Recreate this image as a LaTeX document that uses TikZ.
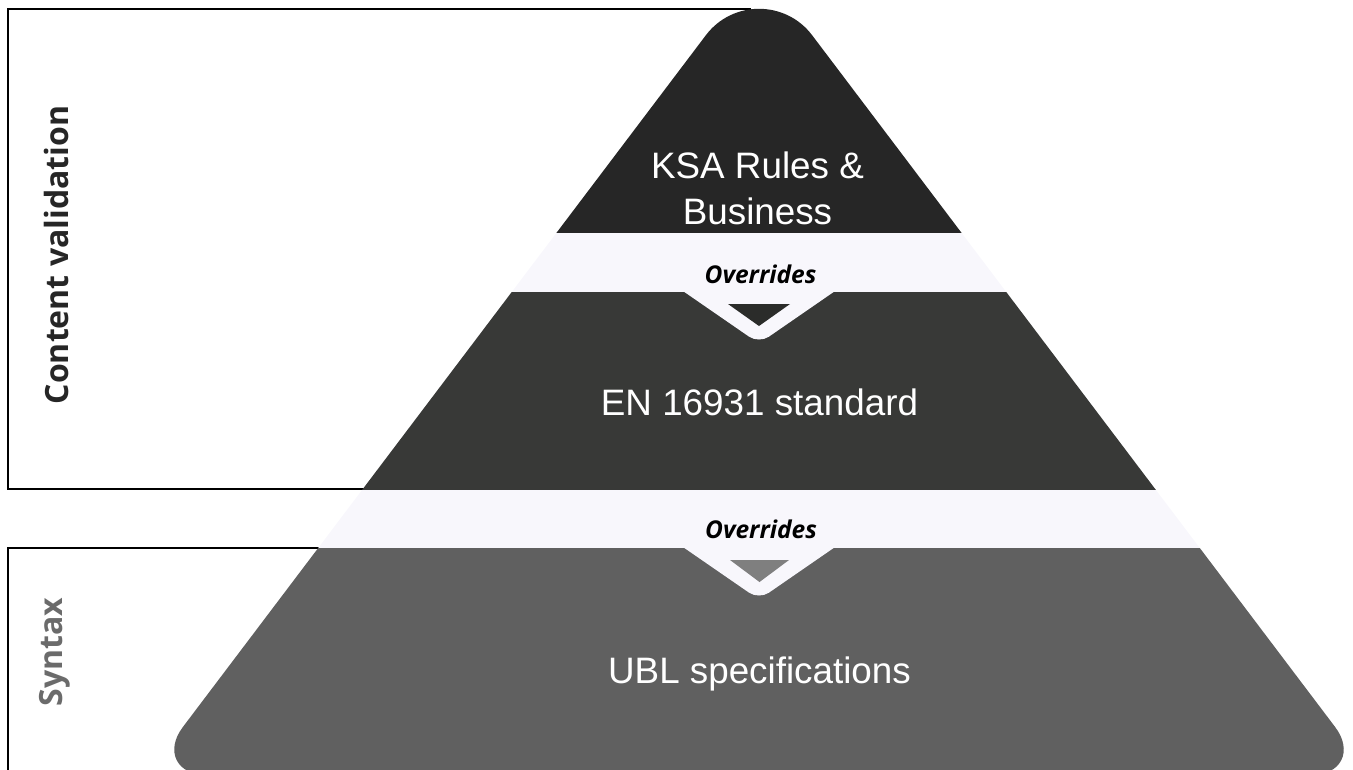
\documentclass[tikz,border=0pt]{standalone}
\usepackage{fontspec}
\setmainfont{Liberation Sans}
\newfontfamily\labelfont{Open Sans}
\definecolor{topband}{HTML}{262626}
\definecolor{midband}{HTML}{383937}
\definecolor{lowband}{HTML}{606060}
\definecolor{gapband}{HTML}{F8F7FC}
\definecolor{midtip}{HTML}{2B2C2A}
\definecolor{lowtip}{HTML}{7F7F7F}
\definecolor{syntaxgray}{HTML}{6B6B6B}
\definecolor{cvdark}{HTML}{262626}
\tikzset{
  sidebox/.style={draw=black, line width=2pt},
  layertext/.style={text=white, font=\fontsize{36.8}{46}\selectfont, anchor=base, inner sep=0pt},
  overtext/.style={text=black, font=\labelfont\bfseries\itshape\fontsize{24.5}{29}\selectfont, anchor=base, inner sep=0pt},
  sidetext/.style={font=\labelfont\bfseries\fontsize{32}{38}\selectfont, anchor=base, rotate=90, inner sep=0pt},
  chevron/.style={fill=gapband, rounded corners=12pt},
}
\begin{document}
\begin{tikzpicture}[x=1pt,y=-1pt]
\useasboundingbox (0,0) rectangle (1353,769);
\begin{scope}
\clip (0,0) rectangle (1353,769);
% side boxes (behind the pyramid)
\draw[sidebox] (8,9) rectangle (750,489);
\draw[sidebox] (8,548) rectangle (760,800);
\node[sidetext, text=cvdark] (cv) at (68,255) {Content validation};
\node[sidetext, text=syntaxgray] (syn) at (62,652) {Syntax};
% pyramid
\begin{scope}
\clip (705.9,35.2) .. controls (732.5,0) and (785.5,0) .. (812.1,35.2)
  -- (1335.2,727.1) .. controls (1353.3,751.1) and (1341.4,775) .. (1311.4,775)
  -- (206.6,775) .. controls (176.6,775) and (164.7,751.1) .. (182.8,727.1) -- cycle;
\fill[topband] (0,-50) rectangle (1353,233);
\fill[gapband] (0,233) rectangle (1353,292);
\fill[midband] (0,292) rectangle (1353,490);
\fill[gapband] (0,490) rectangle (1353,548);
\fill[lowband] (0,548) rectangle (1353,800);
\end{scope}
% chevrons
\fill[chevron] (667,280) -- (851,280) -- (759,343.5) -- cycle;
\fill[midtip] (728,304) -- (790,304) -- (759,326) -- cycle;
\fill[chevron] (667,536) -- (851,536) -- (759,599.5) -- cycle;
\fill[lowtip] (730,560) -- (789,560) -- (759.5,582) -- cycle;
% texts
\node[layertext] (ksa1) at (757.5,178) {KSA Rules \&};
\node[layertext] (ksa2) at (757.5,224) {Business};
\node[overtext] (ov1) at (760.5,283) {Overrides};
\node[layertext] (en) at (759.5,415) {EN 16931 standard};
\node[overtext] (ov2) at (761,538) {Overrides};
\node[layertext] (ubl) at (759.5,683) {UBL specifications};
\end{scope}
\end{tikzpicture}
\end{document}
